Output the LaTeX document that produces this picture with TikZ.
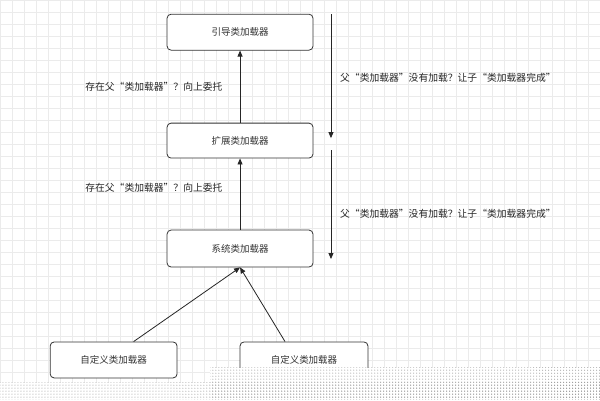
\documentclass[tikz,border=0pt]{standalone}
\usepackage{fontspec}
\newfontfamily\cjk{Noto Sans CJK SC}
\usetikzlibrary{arrows.meta,patterns}
\begin{document}
\begin{tikzpicture}[x=1pt,y=-1pt,
  box/.style={draw=black!80,rounded corners=4pt,line width=0.8pt,fill=white,font=\cjk\fontsize{9.5}{11}\selectfont,inner sep=0pt,text=black!80},
  lbl/.style={font=\cjk\fontsize{9.8}{11}\selectfont,anchor=west,inner sep=0pt,text=black!85},
  arr/.style={-{Triangle[length=6pt,width=5pt]},line width=0.8pt,black!85}]
\fill[white] (0,0) rectangle (600,400);
\foreach \i in {0,12,...,600} \draw[black!8,line width=0.4pt] (\i,0) -- (\i,400);
\foreach \i in {0,12,...,400} \draw[black!8,line width=0.4pt] (0,\i) -- (600,\i);
\useasboundingbox (0,0) rectangle (600,400);
\node[box,minimum width=146pt,minimum height=36pt] (boot) at (240,32) {引导类加载器};
\node[box,minimum width=146pt,minimum height=35pt] (ext) at (240,140.5) {扩展类加载器};
\node[box,minimum width=146pt,minimum height=37pt] (sys) at (240,248.5) {系统类加载器};
\node[box,minimum width=127pt,minimum height=36pt] (c1) at (113.5,360) {自定义类加载器};
\node[box,minimum width=128pt,minimum height=36pt] (c2) at (304,360) {自定义类加载器};
\draw[arr] (ext) -- (boot);
\draw[arr] (sys) -- (ext);
\draw[arr] (c1.north) ++(20,0) coordinate (c1a) (c1a) -- (sys.south);
\draw[arr] (c2.north) ++(-19,0) coordinate (c2a) (c2a) -- (sys.south);
\coordinate (d1s) at (331,14); \coordinate (d1e) at (331,138);
\coordinate (d2s) at (331,150); \coordinate (d2e) at (331,259);
\draw[arr] (d1s) -- (d1e);
\draw[arr] (d2s) -- (d2e);
\node[lbl] (l1) at (85,87) {存在父“类加载器”？向上委托};
\node[lbl] (l2) at (85,188) {存在父“类加载器”？向上委托};
\node[lbl] (r1) at (340,78) {父“类加载器”没有加载？让子“类加载器完成”};
\node[lbl] (r2) at (340,214) {父“类加载器”没有加载？让子“类加载器完成”};
\fill[white] (210,368) rectangle (600,400);
\fill[white] (0,383) rectangle (600,400);
\fill[pattern=dots,pattern color=black!45] (210,368) rectangle (600,400);
\fill[pattern=dots,pattern color=black!45] (0,383) rectangle (600,400);
\end{tikzpicture}
\end{document}
